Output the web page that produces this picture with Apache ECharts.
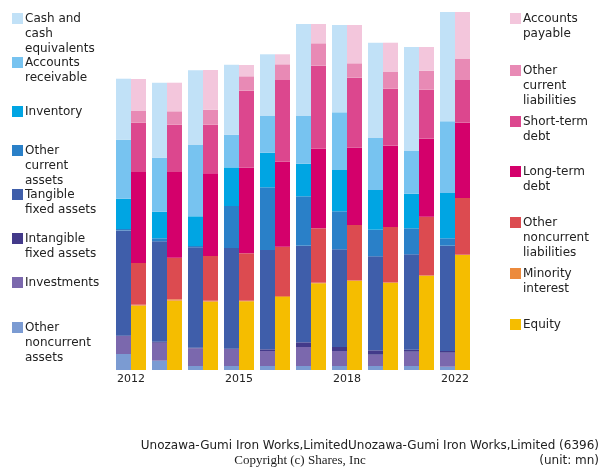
<!DOCTYPE html>
<html>
<head>
<meta charset="utf-8">
<script src="https://cdn.jsdelivr.net/npm/echarts@6/dist/echarts.min.js"></script>
<style>html,body{margin:0;padding:0;background:#fff}#c{width:600px;height:470px}</style>
</head>
<body>
<div id="c"></div>
<script>
var categories = ["2012","2013","2014","2015","2016","2017","2018","2019","2020","2022"];

// Assets
var cash      = [61, 75, 74.7, 70, 61.7, 92, 87.3, 95.3, 104, 109.3];
var receiv    = [59, 54, 71.3, 32.7, 36.7, 47.7, 57.7, 52, 42.7, 71.7];
var inventory = [30.3, 26.6, 29.7, 38.6, 34.6, 32.6, 41.3, 39.7, 34.6, 45.3];
var otherCur  = [1.4, 3, 1.3, 42, 62.7, 49.4, 38, 26.6, 26, 7.4];
var tangible  = [105.3, 100.4, 100.4, 100.7, 99.3, 96.6, 97.7, 94, 95.4, 105.3];
var intangible= [0.3, 1, 0.6, 0.3, 1.7, 4.7, 4, 4.4, 2, 1.7];
var investments=[18, 18, 17.7, 17, 15, 19, 15, 11.3, 14.3, 14];
var otherNC   = [16, 9.3, 4, 4, 4, 4, 4, 4, 4, 3.3];

// Liabilities & equity
var payable   = [32, 28.6, 39.7, 11.3, 10, 19.3, 38.3, 29.3, 23.7, 47.3];
var otherCurL = [11.7, 13.4, 15, 14.4, 15.7, 22.4, 14.4, 16.7, 19, 21];
var shortDebt = [49.3, 47.3, 48.6, 77, 81.7, 83, 70, 57, 49, 42.7];
var longDebt  = [91, 85.7, 82.7, 85.6, 85, 79.6, 77.3, 81.3, 78, 75.3];
var otherNCL  = [41.7, 41.6, 44.7, 47.4, 49.3, 54.4, 55.3, 55.3, 58.6, 56.7];
var minority  = [1, 1.4, 1, 0.6, 1, 0.6, 0.7, 0.7, 0.7, 0.3];
var equity    = [64.3, 69.3, 68.3, 68.7, 73, 86.7, 89, 87, 94, 115];

var assetNames = ["Cash and\ncash\nequivalents","Accounts\nreceivable","Inventory","Other\ncurrent\nassets","Tangible\nfixed assets","Intangible\nfixed assets","Investments","Other\nnoncurrent\nassets"];
var liabNames = ["Accounts\npayable","Other\ncurrent\nliabilities","Short-term\ndebt","Long-term\ndebt","Other\nnoncurrent\nliabilities","Minority\ninterest","Equity"];

var assetColors = ["#c1e1f7","#77c3f0","#00a5e3","#2a80c8","#3f5eaa","#433a8a","#7b68ad","#7b9bd2"];
var liabColors = ["#f3c6dc","#e88ab5","#dc478e","#d4006b","#dc4b50","#ec8a3c","#f5bd00"];

var assetData = [cash, receiv, inventory, otherCur, tangible, intangible, investments, otherNC];
var liabData = [payable, otherCurL, shortDebt, longDebt, otherNCL, minority, equity];

var assetLegendTop = [13, 57, 106, 145, 189, 233, 277, 322];
var liabLegendTop = [13, 65, 116, 166, 217, 268, 319];

var series = [];
for (var i = assetData.length - 1; i >= 0; i--) {
  series.push({name: assetNames[i], type: 'bar', stack: 'assets', data: assetData[i],
    barWidth: 15, barGap: '0%', itemStyle: {color: assetColors[i]}, emphasis: {disabled: true}});
}
for (var j = liabData.length - 1; j >= 0; j--) {
  series.push({name: liabNames[j], type: 'bar', stack: 'liab', data: liabData[j],
    barWidth: 15, barGap: '0%', itemStyle: {color: liabColors[j]}, emphasis: {disabled: true}});
}

var graphics = [];
function addLegend(names, colors, tops, x) {
  for (var k = 0; k < names.length; k++) {
    graphics.push({type: 'rect', left: x, top: tops[k], shape: {width: 11, height: 11}, style: {fill: colors[k]}});
    graphics.push({type: 'text', left: x + 13, top: tops[k] - 2,
      style: {text: names[k], font: '12px "DejaVu Sans"', fill: '#222', lineHeight: 15}});
  }
}
addLegend(assetNames, assetColors, assetLegendTop, 12);
addLegend(liabNames, liabColors, liabLegendTop, 510);

graphics.push({type: 'text', right: 1, top: 440,
  style: {text: 'Unozawa-Gumi Iron Works,LimitedUnozawa-Gumi Iron Works,Limited (6396)', font: '12px "DejaVu Sans"', fill: '#222'}});
graphics.push({type: 'text', right: 1, top: 455,
  style: {text: '(unit: mn)', font: '12px "DejaVu Sans"', fill: '#222'}});
graphics.push({type: 'text', x: 300, y: 454,
  style: {text: 'Copyright (c) Shares, Inc', font: '13px "Liberation Serif"', fill: '#222', textAlign: 'center'}});

var chart = echarts.init(document.getElementById('c'), null, {renderer: 'canvas'});
chart.setOption({
  animation: false,
  grid: {left: 113, width: 360, top: 12, height: 358},
  xAxis: {type: 'category', data: categories,
    axisLine: {show: false}, axisTick: {show: false},
    axisLabel: {interval: 2, margin: 4, fontSize: 11, fontFamily: 'DejaVu Sans', color: '#222'}},
  yAxis: {type: 'value', min: 0, max: 358, show: false, splitLine: {show: false}},
  series: series,
  graphic: graphics
});
</script>
</body>
</html>
